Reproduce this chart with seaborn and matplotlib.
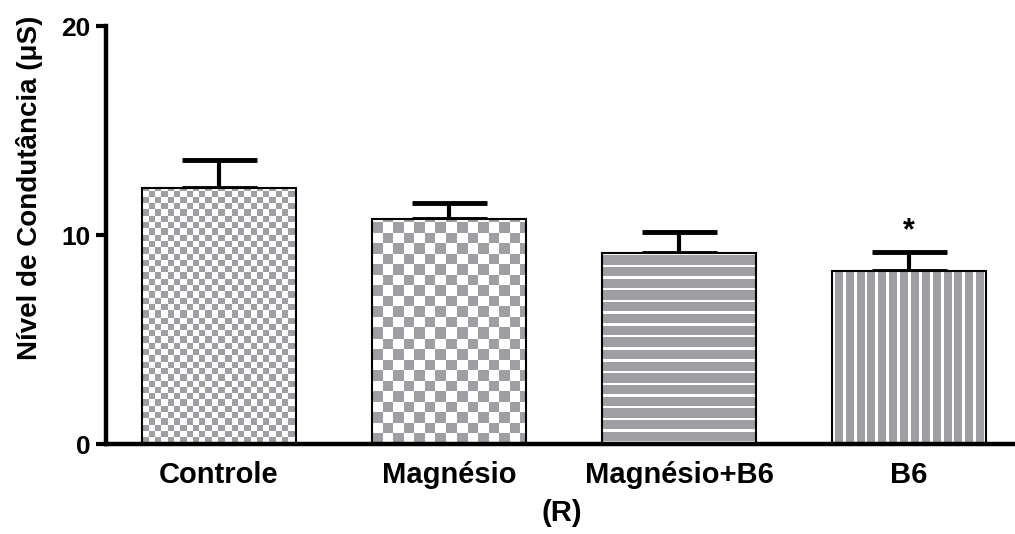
import numpy as np
import pandas as pd
import matplotlib
matplotlib.use("Agg")
import matplotlib.pyplot as plt
from matplotlib.colors import ListedColormap
import seaborn as sns

grupos = ["Controle", "Magnésio", "Magnésio+B6", "B6"]
medias = [12.26, 10.78, 9.15, 8.29]
epm = [1.33, 0.74, 0.98, 0.88]
asterisco = ["", "", "", "*"]

df = pd.DataFrame({"grupo": grupos, "media": medias})

sns.set_style("ticks")
plt.rcParams["font.family"] = ["Liberation Sans", "DejaVu Sans"]
plt.rcParams["font.weight"] = "bold"
for k in ["text.color", "axes.labelcolor", "xtick.color", "ytick.color", "axes.edgecolor"]:
    plt.rcParams[k] = "black"

cinza = "#9e9ea3"

fig = plt.figure(figsize=(10.15, 5.34), dpi=100)
ax = fig.add_axes([0.1044, 0.1685, 0.8956, 0.7825])

sns.barplot(data=df, x="grupo", y="media", color=cinza, edgecolor="black",
            linewidth=1.5, width=0.67, errorbar=None, ax=ax, zorder=3)

ax.errorbar(range(len(grupos)), medias, yerr=[np.zeros(len(epm)), epm],
            fmt="none", ecolor="black", elinewidth=3, capsize=27, capthick=3.5,
            zorder=2)

for i, s in enumerate(asterisco):
    if s:
        ax.text(i, medias[i] + epm[i] + 0.3, s, ha="center", va="bottom",
                fontsize=22, fontweight="bold")

ax.set_ylim(0, 20)
ax.set_xlim(-0.49, 3.46)
ax.set_yticks([0, 10, 20])

# texturas (xadrez / listras) recortadas em cada barra
def xadrez(h, w, c):
    i, j = np.mgrid[0:h, 0:w]
    return (np.floor(i / c) + np.floor(j / c)) % 2

def listras_h(h, w, p=11.7, b=2.4):
    i, j = np.mgrid[0:h, 0:w]
    return ((i % p) < b).astype(float)

def listras_v(h, w, p=10.75, b=2.6):
    i, j = np.mgrid[0:h, 0:w]
    return ((j % p) < b).astype(float)

texturas = [lambda h, w: xadrez(h, w, 6.3),
            lambda h, w: xadrez(h, w, 10.5),
            listras_h, listras_v]
cmap = ListedColormap([cinza, "white"])

for p, tex in zip(ax.patches, texturas):
    x0, y0, w, h = p.get_x(), p.get_y(), p.get_width(), p.get_height()
    (px0, py0), (px1, py1) = ax.transData.transform([(x0, y0), (x0 + w, y0 + h)])
    hp, wp = int(round(py1 - py0)), int(round(px1 - px0))
    im = ax.imshow(tex(hp, wp), cmap=cmap, vmin=0, vmax=1, origin="lower",
                   extent=(x0, x0 + w, y0, y0 + h), aspect="auto",
                   interpolation="nearest", zorder=2.5)
    im.set_clip_path(p)
    p.set_facecolor("none")

ax.set_ylim(0, 20)
ax.set_xlim(-0.49, 3.46)

sns.despine(ax=ax)
for s in ["left", "bottom"]:
    ax.spines[s].set_linewidth(3.2)
    ax.spines[s].set_color("black")
ax.tick_params(axis="y", length=7, width=3, labelsize=19, pad=4, colors="black")
ax.tick_params(axis="x", length=0, labelsize=21, pad=12, colors="black")
for t in ax.get_xticklabels() + ax.get_yticklabels():
    t.set_fontweight("bold")

ax.set_xlabel("(R)", fontsize=21, fontweight="bold", color="black")
ax.xaxis.set_label_coords(0.5017, -0.132)
ax.set_ylabel("Nível de Condutância (μS)", fontsize=20, fontweight="bold", color="black")
ax.yaxis.set_label_coords(-0.069, 0.612)

fig.savefig("out.png", dpi=100)
